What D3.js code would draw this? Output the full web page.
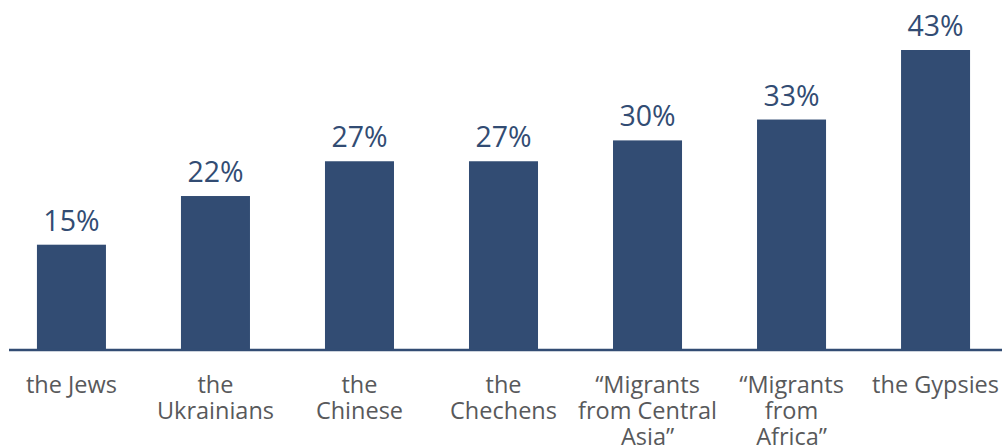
<!DOCTYPE html>
<html>
<head>
<meta charset="utf-8">
<script src="https://cdn.jsdelivr.net/npm/d3@7"></script>
<style>
  html, body { margin: 0; padding: 0; background: #fff; }
  svg { display: block; }
</style>
</head>
<body>
<svg id="chart" width="1002" height="447"></svg>
<script>
// Share of respondents, by group
const categories = [
  ["the Jews"],
  ["the", "Ukrainians"],
  ["the", "Chinese"],
  ["the", "Chechens"],
  ["\u201cMigrants", "from Central", "Asia\u201d"],
  ["\u201cMigrants", "from", "Africa\u201d"],
  ["the Gypsies"]
];
const values = [15, 22, 27, 27, 30, 33, 43];
const valueLabels = ["15%", "22%", "27%", "27%", "30%", "33%", "43%"];

const barColor = "#324c73";
const textColor = "#58595b";
const fontFamily = "'Open Sans', 'Noto Sans', sans-serif";

const svg = d3.select("#chart");
const idx = d3.range(values.length);

const x = d3.scaleBand()
  .domain(idx)
  .range([-0.5, 1007.5])
  .paddingInner(0.5208)
  .paddingOuter(0.26);

const y = d3.scaleLinear()
  .domain([0, 43])
  .range([349, 50]);

const baseY = 350;

// bars
svg.append("g")
  .selectAll("rect")
  .data(idx)
  .join("rect")
  .attr("x", i => x(i))
  .attr("y", i => y(values[i]))
  .attr("width", x.bandwidth())
  .attr("height", i => baseY - y(values[i]))
  .attr("fill", barColor);

// baseline
svg.append("line")
  .attr("x1", 9).attr("x2", 1002)
  .attr("y1", baseY).attr("y2", baseY)
  .attr("stroke", barColor)
  .attr("stroke-width", 2.5);

// value labels
svg.append("g")
  .selectAll("text")
  .data(idx)
  .join("text")
  .attr("x", i => x(i) + x.bandwidth() / 2)
  .attr("y", i => y(values[i]) - 14)
  .attr("text-anchor", "middle")
  .attr("font-family", fontFamily)
  .attr("font-size", 28.5)
  .attr("fill", barColor)
  .text(i => valueLabels[i]);

// category labels, one text element per line
const lines = idx.flatMap(i => categories[i].map((line, k) => ({ i, k, line })));
svg.append("g")
  .selectAll("text")
  .data(lines)
  .join("text")
  .attr("x", d => x(d.i) + x.bandwidth() / 2)
  .attr("y", d => 393 + d.k * 26)
  .attr("text-anchor", "middle")
  .attr("font-family", fontFamily)
  .attr("font-size", 23.5)
  .attr("fill", textColor)
  .text(d => d.line);
</script>
</body>
</html>
